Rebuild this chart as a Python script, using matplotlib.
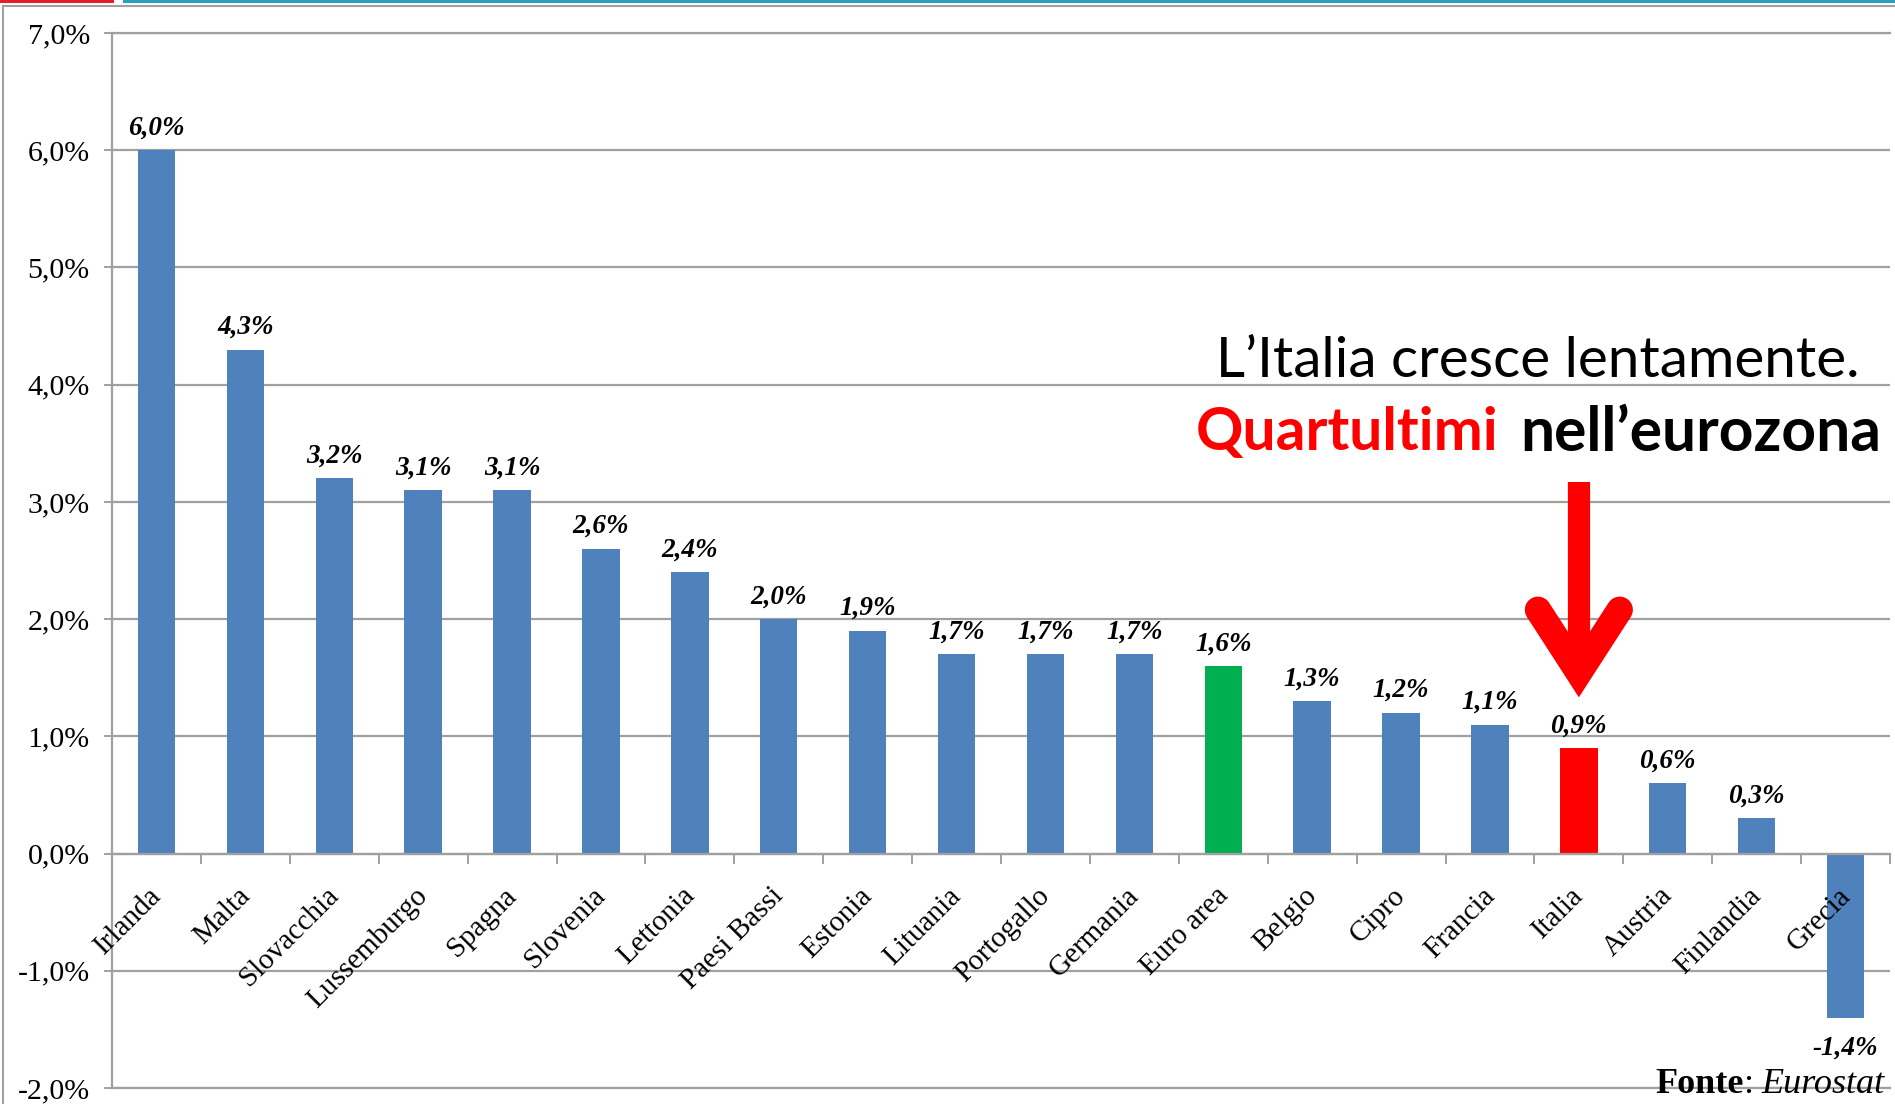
import matplotlib
matplotlib.use('Agg')
import matplotlib.pyplot as plt
import matplotlib.transforms as mtransforms
from matplotlib.lines import Line2D
from matplotlib.ticker import FuncFormatter, FixedLocator
import numpy as np

# ---- data ----
countries = ["Irlanda", "Malta", "Slovacchia", "Lussemburgo", "Spagna", "Slovenia",
             "Lettonia", "Paesi Bassi", "Estonia", "Lituania", "Portogallo", "Germania",
             "Euro area", "Belgio", "Cipro", "Francia", "Italia", "Austria",
             "Finlandia", "Grecia"]
growth = [6.0, 4.3, 3.2, 3.1, 3.1, 2.6, 2.4, 2.0, 1.9, 1.7, 1.7, 1.7, 1.6,
          1.3, 1.2, 1.1, 0.9, 0.6, 0.3, -1.4]
y_ticks = [-2, -1, 0, 1, 2, 3, 4, 5, 6, 7]
highlight = {"Euro area": "#00B050", "Italia": "#FF0000"}
base_color = "#4F81BD"
title1 = "L\u2019Italia cresce lentamente."
title2a = "Quartultimi"
title2b = "nell\u2019eurozona"

plt.rcParams['font.family'] = ['Liberation Serif', 'DejaVu Serif']

W, H = 1895, 1104
fig = plt.figure(figsize=(W / 100, H / 100), dpi=100)
fig.patch.set_facecolor('white')

def fx(px):
    return px / W

def fy(py):
    return 1 - py / H

ax = fig.add_axes([fx(112), fy(1088), (1890 - 112) / W, (1088 - 33) / H])
x = np.arange(len(countries))
colors = [highlight.get(c, base_color) for c in countries]
ax.bar(x, growth, width=0.42, color=colors, zorder=3)
ax.set_xlim(-0.5, len(countries) - 0.5)
ax.set_ylim(-2, 7)

grid_col = '#A0A0A0'
ax.yaxis.set_major_locator(FixedLocator(y_ticks))
ax.yaxis.set_major_formatter(FuncFormatter(lambda v, _: f"{v:.1f}%".replace('.', ',')))
ax.grid(axis='y', color=grid_col, linewidth=1.6, zorder=0)
ax.grid(axis='x', visible=False)
for yv in (y_ticks[0], y_ticks[-1]):
    ax.axhline(yv, color=grid_col, linewidth=1.6, clip_on=False, zorder=0)

for s in ('top', 'right'):
    ax.spines[s].set_visible(False)
ax.spines['left'].set_color(grid_col)
ax.spines['left'].set_linewidth(1.6)
ax.spines['bottom'].set_position(('data', 0))
ax.spines['bottom'].set_color(grid_col)
ax.spines['bottom'].set_linewidth(1.6)
ax.spines['bottom'].set_zorder(4)
ax.xaxis.set_zorder(4.5)

ax.tick_params(axis='y', direction='out', length=6, width=1.4, color=grid_col,
               labelsize=21.5, pad=10)
ax.set_xticks(x)
ax.set_xticks(np.arange(len(countries) + 1) - 0.5, minor=True)
ax.tick_params(axis='x', which='major', length=0, pad=21)
ax.tick_params(axis='x', which='minor', length=7, width=1.4, color=grid_col, direction='out')
ax.set_xticklabels(countries, rotation=45, ha='right', va='top', fontsize=21)
offset = mtransforms.ScaledTranslation(10 / 100, 0, fig.dpi_scale_trans)
for lab in ax.get_xticklabels():
    lab.set_transform(lab.get_transform() + offset)

# value labels
for xi, v in zip(x, growth):
    txt = f"{v:.1f}%".replace('.', ',')
    if v >= 0:
        ax.annotate(txt, (xi, v), xytext=(0, 7), textcoords='offset points',
                    ha='center', va='bottom', fontsize=19.5, fontweight='bold',
                    fontstyle='italic', zorder=5)
    else:
        ax.annotate(txt, (xi, v), xytext=(0, -13), textcoords='offset points',
                    ha='center', va='top', fontsize=19.5, fontweight='bold',
                    fontstyle='italic', zorder=5)

# red arrow pointing at Italia
ii = countries.index("Italia")
ax.plot([ii, ii], [3.17, 1.7], color='#FF0000', linewidth=16,
        solid_capstyle='butt', zorder=6)
ax.plot([ii - 0.46, ii, ii + 0.46], [2.08, 1.54, 2.08], color='#FF0000',
        linewidth=19, solid_capstyle='round', solid_joinstyle='miter', zorder=6)

# annotation text
sans = ['Lato', 'DejaVu Sans']
t1 = fig.text(fx(1538), fy(361), title1, ha='center', va='center', fontsize=34,
              family=sans, color='black')
t2a = fig.text(fx(1499), fy(433), title2a, ha='right', va='center', fontsize=34,
               family=sans, fontweight='bold', color='#FF0000')
t2b = fig.text(fx(1520), fy(433), title2b, ha='left', va='center', fontsize=34,
               family=sans, fontweight='bold', color='black')

fig.canvas.draw()
r = fig.canvas.get_renderer()
for t, target in ((t1, 646), (t2a, 303), (t2b, 362)):
    w = t.get_window_extent(r).width
    t.set_fontsize(t.get_fontsize() * target / w)

# source note
base_y = fy(1101)
f1 = fig.text(fx(1655), base_y, "Fonte", ha='left', va='bottom', fontsize=26,
              fontweight='bold')
fig.canvas.draw()
e1 = f1.get_window_extent(r)
f2 = fig.text(e1.x1 / W, base_y, ":", ha='left', va='bottom', fontsize=26)
fig.canvas.draw()
e2 = f2.get_window_extent(r)
fig.text(e2.x1 / W + 8 / W, base_y, "Eurostat", ha='left', va='bottom',
         fontsize=26, fontstyle='italic')

# slide decorations
fig.add_artist(Line2D([fx(3), fx(3)], [0, fy(6)], transform=fig.transFigure,
                      color=grid_col, linewidth=1.5))
fig.add_artist(Line2D([fx(3), 1], [fy(6), fy(6)], transform=fig.transFigure,
                      color=grid_col, linewidth=1.5))
fig.add_artist(Line2D([0, fx(112)], [fy(1), fy(1)], transform=fig.transFigure,
                      color='#E0202A', linewidth=2.2))
fig.add_artist(Line2D([fx(124), 1], [fy(1), fy(1)], transform=fig.transFigure,
                      color='#2AA0C0', linewidth=2.2))

fig.savefig('out.png', dpi=100)
